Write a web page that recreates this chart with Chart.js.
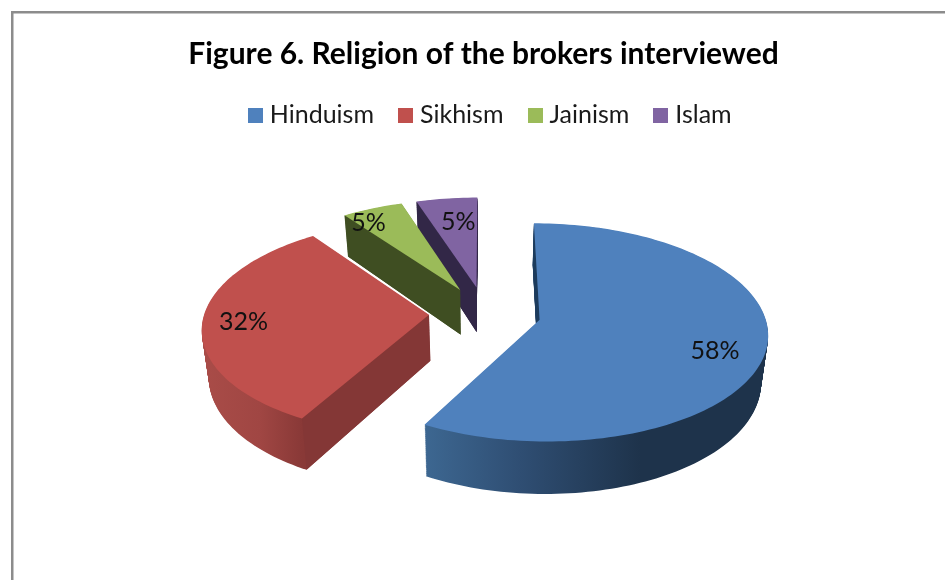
<!DOCTYPE html>
<html>
<head>
<meta charset="utf-8">
<style>
  html, body { margin: 0; padding: 0; background: #fff; overflow: hidden; }
  canvas { display: block; }
</style>
<script src="https://cdn.jsdelivr.net/npm/chart.js@4/dist/chart.umd.min.js"></script>
</head>
<body>
<canvas id="chart" width="945" height="580"></canvas>
<script>
// Religion shares, in percent
const categories = ['Hinduism', 'Sikhism', 'Jainism', 'Islam'];
const shares = [58, 32, 5, 5];
const chartTitle = 'Figure 6. Religion of the brokers interviewed';

// Face colours
const topColors = ['#4f81bd', '#c0504d', '#9bbb59', '#8064a2'];
const cutColors = ['#1c3b5c', '#843736', '#3f4e22', '#322747'];
// Outer wall shading: [screen x, colour] stops
const rimStops = [
  [[425, '#3d6791'], [520, '#2f4e73'], [640, '#1e334b'], [770, '#1e334b']],
  [[203, '#a94c48'], [260, '#a04643'], [302, '#893937'], [430, '#893937']],
  [[340, '#3f4e22'], [470, '#3f4e22']],
  [[410, '#322747'], [480, '#322747']]
];

// Perspective camera for the tilted, exploded pie
const RADIUS = 224.5, EXPLODE = 56;
const VP_X = 485, PLANE_Y = 313, EYE_DIST = 8.6 * RADIUS, FORESHORTEN = 912;
const WALL_HEIGHT = 46, TAPER = 0.025, WALL_LAYERS = 60;

// Label placement along each slice's mid radius, with a small nudge
const labelFrac = [0.79, 0.82, 0.86, 0.76];
const labelNudge = [[-3, 10], [0, 2], [-15, 4], [5, 4]];

// Maps a point on a slice (polar about its own exploded tip) to the screen.
// t = 0 is the top face, t = 1 the bottom face.
function project(arc, angle, rel, t) {
  const mid = arc.startAngle + arc.circumference / 2;
  const gx = EXPLODE * Math.cos(mid) + rel * RADIUS * Math.cos(angle);
  const gz = EXPLODE * Math.sin(mid) + rel * RADIUS * Math.sin(angle);
  const w = 1 / (1 - gz / EYE_DIST);
  return {
    x: VP_X + gx * w * (1 - TAPER * t),
    y: PLANE_Y - FORESHORTEN + (FORESHORTEN + WALL_HEIGHT * t) * w
  };
}

// Outline of a slice at level t: tip, then samples along its rim
function sliceOutline(arc, t) {
  const n = Math.max(8, Math.ceil(arc.circumference * 40));
  const pts = [project(arc, arc.startAngle, 0, t)];
  for (let k = 0; k <= n; k++) {
    pts.push(project(arc, arc.startAngle + arc.circumference * k / n, 1, t));
  }
  return pts;
}

function fillPoly(ctx, pts, style) {
  ctx.beginPath();
  pts.forEach((p, n) => n ? ctx.lineTo(p.x, p.y) : ctx.moveTo(p.x, p.y));
  ctx.closePath();
  ctx.fillStyle = style;
  ctx.fill();
}

const pie3d = {
  id: 'pie3d',
  beforeDraw(chart) {
    // Chart frame, open towards the right and bottom
    const ctx = chart.ctx;
    ctx.save();
    ctx.fillStyle = '#8c8c8c';
    ctx.fillRect(11, 11, 934, 2.5);
    ctx.fillRect(11, 11, 2.5, 569);
    ctx.restore();
  },
  afterLayout(chart) {
    chart.legend.left += 9;
    chart.legend.right += 9;
  },
  beforeDatasetsDraw(chart) {
    const ctx = chart.ctx;
    const arcs = chart.getDatasetMeta(0).data;
    for (let i = arcs.length - 1; i >= 0; i--) {
      const arc = arcs[i];
      const stops = rimStops[i];
      const x0 = stops[0][0], x1 = stops[stops.length - 1][0];
      const grad = ctx.createLinearGradient(x0, 0, x1, 0);
      stops.forEach(s => grad.addColorStop((s[0] - x0) / (x1 - x0), s[1]));

      // Outer wall: the outline swept from the bottom face up to the top face
      for (let k = WALL_LAYERS; k > 0; k--) {
        fillPoly(ctx, sliceOutline(arc, k / WALL_LAYERS), grad);
      }

      // Cut wall along the slice's leading edge
      const a = arc.startAngle;
      fillPoly(ctx, [project(arc, a, 0, 0), project(arc, a, 1, 0), project(arc, a, 1, 1), project(arc, a, 0, 1)], cutColors[i]);

      // Top face, coloured from the arc element's resolved options
      fillPoly(ctx, sliceOutline(arc, 0), arc.options.backgroundColor);
    }

    // Percentage labels
    ctx.save();
    ctx.font = '25px Lato';
    ctx.fillStyle = '#111';
    ctx.textAlign = 'center';
    ctx.textBaseline = 'middle';
    arcs.forEach((arc, i) => {
      const mid = arc.startAngle + arc.circumference / 2;
      const q = project(arc, mid, labelFrac[i], 0);
      ctx.fillText(shares[i] + '%', q.x + labelNudge[i][0], q.y + labelNudge[i][1]);
    });
    ctx.restore();
    return false;
  }
};

// Square legend swatches, sized independently of the label gap
function swatch(color) {
  const c = document.createElement('canvas');
  c.width = c.height = 15;
  const g = c.getContext('2d');
  g.fillStyle = color;
  g.fillRect(0, 0, 15, 15);
  return c;
}

new Chart(document.getElementById('chart'), {
  type: 'pie',
  data: {
    labels: categories,
    datasets: [{ data: shares, backgroundColor: topColors, borderWidth: 0 }]
  },
  plugins: [pie3d],
  options: {
    responsive: false,
    animation: false,
    devicePixelRatio: 1,
    events: [],
    layout: { padding: { left: 22, top: 0, right: 0, bottom: 0 } },
    plugins: {
      tooltip: { enabled: false },
      title: {
        display: true,
        text: chartTitle,
        color: '#000',
        font: { family: 'Lato', size: 30, weight: 'bold' },
        padding: { top: 36, bottom: 1 }
      },
      legend: {
        display: true,
        position: 'top',
        labels: {
          color: '#1a1a1a',
          font: { family: 'Lato', size: 25 },
          usePointStyle: true,
          pointStyleWidth: 4,
          padding: 29.5,
          generateLabels(chart) {
            return Chart.overrides.pie.plugins.legend.labels.generateLabels(chart)
              .map((item, i) => Object.assign(item, { pointStyle: swatch(topColors[i]) }));
          }
        }
      }
    }
  }
});
</script>
</body>
</html>
